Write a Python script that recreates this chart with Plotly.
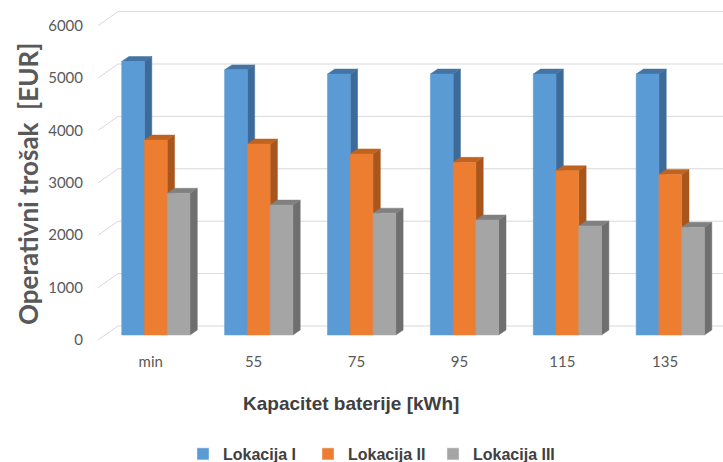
import plotly.graph_objects as go

# ---- data ----
categories = ["min", "55", "75", "95", "115", "135"]
series_names = ["Lokacija I", "Lokacija II", "Lokacija III"]
lokacija_1 = [5220, 5060, 4980, 4980, 4980, 4980]
lokacija_2 = [3720, 3645, 3455, 3295, 3135, 3065]
lokacija_3 = [2705, 2480, 2325, 2195, 2080, 2055]
y_ticks = [0, 1000, 2000, 3000, 4000, 5000, 6000]

# ---- style ----
front_colors = ["#5b9bd5", "#ed7d31", "#a5a5a5"]
side_colors = ["#3d6b99", "#a9561d", "#6f6f6f"]
top_colors = ["#4474a4", "#bf631f", "#808080"]
bar_w = 0.2213          # bar width in x units
dx = 0.071              # depth offset x (units)
dy = 95.0               # depth offset y (units)
grid_dy = 172.0         # back wall offset
label_dy = -95.0        # front label offset
x_range = [-0.5428, 5.512]
y_range = [-190.8, 6297.7]
back_paper_x = 18 / 623

fig = go.Figure()
all_series = [lokacija_1, lokacija_2, lokacija_3]

for s, vals in enumerate(all_series):
    sx, sy, tx, ty, fx, fy = [], [], [], [], [], []
    for i, v in enumerate(vals):
        xl = i - 1.5 * bar_w + s * bar_w
        xr = xl + bar_w
        sx += [xr, xr + dx, xr + dx, xr, xr, None]
        sy += [0, dy, v + dy, v, 0, None]
        tx += [xl, xl + dx, xr + dx, xr, xl, None]
        ty += [v, v + dy, v + dy, v, v, None]
        fx += [xl, xr, xr, xl, xl, None]
        fy += [0, 0, v, v, 0, None]
    for xs, ys, col in ((sx, sy, side_colors[s]), (tx, ty, top_colors[s]), (fx, fy, front_colors[s])):
        fig.add_trace(go.Scatter(x=xs, y=ys, mode="lines", fill="toself", fillcolor=col,
                                 line=dict(color=col, width=0.5), showlegend=False,
                                 hoverinfo="skip"))

# legend entries
for s, name in enumerate(series_names):
    fig.add_trace(go.Bar(x=[None], y=[None], name=name, marker_color=front_colors[s]))

# gridlines on back wall + diagonal stubs
shapes = []
for v in y_ticks:
    shapes.append(dict(type="line", xref="paper", yref="y", x0=back_paper_x, x1=1,
                       y0=v + grid_dy, y1=v + grid_dy, line=dict(color="#d9d9d9", width=1),
                       layer="below"))
    shapes.append(dict(type="line", xref="paper", yref="y", x0=-0.003, x1=back_paper_x,
                       y0=v + label_dy, y1=v + grid_dy, line=dict(color="#d9d9d9", width=1),
                       layer="below"))

fig.update_layout(
    width=723, height=462,
    margin=dict(l=100, r=0, t=5, b=117, autoexpand=False),
    paper_bgcolor="white", plot_bgcolor="white",
    shapes=shapes,
    showlegend=True,
    legend=dict(orientation="h", x=(183 - 100) / 623, y=-(454 - 345) / 340,
                xanchor="left", yanchor="middle",
                font=dict(family="Liberation Sans", size=16, color="#404040", weight="bold"),
                itemwidth=30, entrywidth=80, entrywidthmode="pixels"),
    xaxis=dict(range=x_range, tickmode="array",
               tickvals=[i - 0.05 for i in range(len(categories))], ticktext=categories,
               showgrid=False, zeroline=False, showline=False, ticks="",
               ticklabelstandoff=6,
               tickfont=dict(family="Lato", size=15, color="#595959")),
    yaxis=dict(range=y_range, tickmode="array",
               tickvals=[v + label_dy for v in y_ticks], ticktext=[str(v) for v in y_ticks],
               showgrid=False, zeroline=False, showline=False, ticks="",
               ticklabelstandoff=16,
               tickfont=dict(family="Lato", size=15, color="#595959")),
    annotations=[
        dict(text="<b>Kapacitet baterije [kWh]</b>", xref="paper", yref="paper",
             x=(351 - 100) / 623, y=-(403 - 345) / 340, xanchor="center", yanchor="middle",
             showarrow=False, font=dict(family="Liberation Sans", size=19, color="#404040")),
        dict(text="<b>Operativni trošak  [EUR]</b>", xref="paper", yref="paper",
             x=(28 - 100) / 623, y=1 - (184 - 5) / 340, xanchor="center", yanchor="middle",
             textangle=-90, showarrow=False,
             font=dict(family="Lato", size=26, color="#595959")),
    ],
)

fig.write_html("out.html")
